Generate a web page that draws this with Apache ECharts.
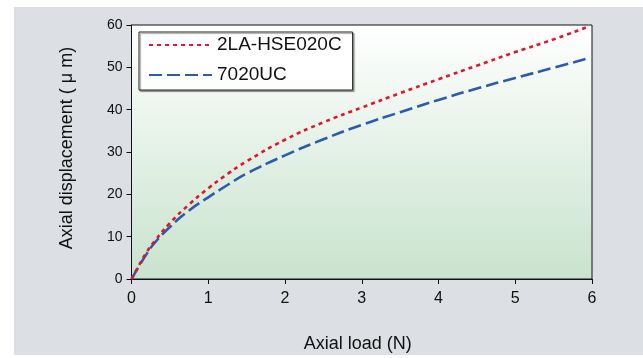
<!DOCTYPE html>
<html>
<head>
<meta charset="utf-8">
<script src="https://cdn.jsdelivr.net/npm/echarts@6/dist/echarts.min.js"></script>
<style>
html,body{margin:0;padding:0;background:#fff;}
#c{width:643px;height:358px;}
</style>
</head>
<body>
<div id="c"></div>
<script>
// Data
const loadN = [0, 0.1, 0.2, 0.3, 0.5, 0.75, 1, 1.25, 1.5, 2, 2.5, 3, 3.5, 4, 4.5, 5, 5.5, 5.92];
const hse020c = [0, 3.3, 6.4, 8.9, 13.2, 17.6, 21.4, 24.8, 27.8, 32.9, 37.0, 40.5, 43.9, 47.2, 50.4, 53.6, 56.6, 59.4];
const uc7020 = [0, 3.1, 6.0, 8.5, 12.3, 16.2, 19.3, 22.2, 24.9, 29.2, 33.0, 36.4, 39.4, 42.3, 45.0, 47.5, 49.9, 52.0];
const seriesNames = ['2LA-HSE020C', '7020UC'];
const xTicks = [0, 1, 2, 3, 4, 5, 6];
const yTicks = [0, 10, 20, 30, 40, 50, 60];

const chart = echarts.init(document.getElementById('c'), null, {renderer: 'canvas'});
const font = 'Liberation Sans, Arial, sans-serif';
chart.setOption({
  animation: false,
  backgroundColor: '#ffffff',
  graphic: [{
    type: 'rect', z: -10, silent: true,
    shape: {x: 14, y: 7, width: 629, height: 348},
    style: {fill: '#dcdfe3'}
  }],
  grid: {
    left: 131.5, right: 51, top: 25, bottom: 72,
    show: true, borderColor: '#111', borderWidth: 1,
    backgroundColor: new echarts.graphic.LinearGradient(0, 0, 0, 1, [
      {offset: 0, color: '#ffffff'},
      {offset: 1, color: '#c8e3cd'}
    ])
  },
  legend: {
    show: true,
    left: 139, top: 32, orient: 'vertical',
    backgroundColor: '#ffffff', borderColor: '#222', borderWidth: 1,
    shadowColor: 'rgba(0,0,0,0.35)', shadowOffsetX: 1.5, shadowOffsetY: 1.5, shadowBlur: 1,
    padding: [3, 11, 5, 9],
    itemWidth: 63, itemHeight: 14, itemGap: 10,
    itemStyle: {opacity: 0},
    textStyle: {fontFamily: font, fontSize: 19, color: '#111', lineHeight: 20},
    data: seriesNames
  },
  xAxis: {
    type: 'value', min: xTicks[0], max: xTicks[xTicks.length - 1], interval: 1,
    name: 'Axial load (N)', nameLocation: 'middle', nameGap: 56,
    nameTextStyle: {fontFamily: font, fontSize: 18, color: '#111', padding: [0, 8, 0, 0]},
    axisLine: {show: true, lineStyle: {color: '#111', width: 1}},
    axisTick: {show: true, length: 5, lineStyle: {color: '#111'}},
    axisLabel: {fontFamily: font, fontSize: 16, color: '#111', margin: 12},
    splitLine: {show: false}
  },
  yAxis: {
    type: 'value', min: yTicks[0], max: yTicks[yTicks.length - 1], interval: 10,
    name: 'Axial displacement ( μ m)', nameLocation: 'middle', nameGap: 55,
    nameTextStyle: {fontFamily: font, fontSize: 18, color: '#111', padding: [0, 0, 0, 8]},
    axisLine: {show: true, lineStyle: {color: '#111', width: 1}},
    axisTick: {show: true, length: 5, lineStyle: {color: '#111'}},
    axisLabel: {fontFamily: font, fontSize: 14, color: '#111', margin: 9},
    splitLine: {show: false}
  },
  series: [
    {
      name: seriesNames[0], type: 'line', showSymbol: false, symbol: 'none',
      smooth: true,
      data: loadN.map((x, i) => [x, hse020c[i]]),
      lineStyle: {color: '#e3122d', width: 2.6, type: [4, 4], cap: 'butt'},
      itemStyle: {color: '#e3122d'}, z: 3
    },
    {
      name: seriesNames[1], type: 'line', showSymbol: false, symbol: 'none',
      smooth: true,
      data: loadN.map((x, i) => [x, uc7020[i]]),
      lineStyle: {color: '#2d5bab', width: 2.6, type: [13, 5], cap: 'butt'},
      itemStyle: {color: '#2d5bab'}, z: 2
    }
  ]
});
</script>
</body>
</html>
